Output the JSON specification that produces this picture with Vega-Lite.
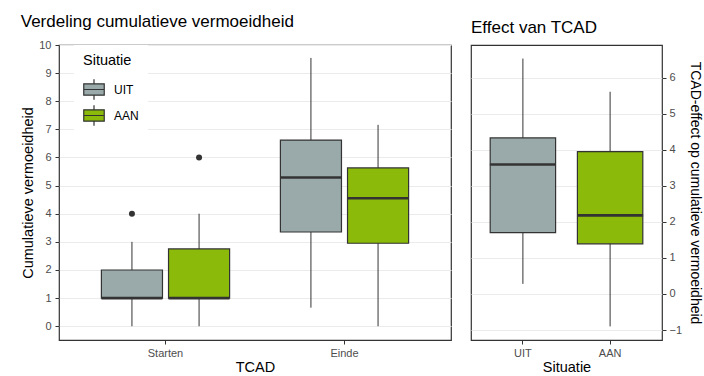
{
  "$schema": "https://vega.github.io/schema/vega-lite/v6.json",
  "padding": {"left": 20, "top": 12, "right": 0, "bottom": 0},
  "background": "white",
  "spacing": 18,
  "datasets": {
    "boxes": [
      {"TCAD": "Starten", "Situatie": "UIT", "lo": 0, "q1": 1, "med": 1, "q3": 2, "hi": 3},
      {"TCAD": "Starten", "Situatie": "AAN", "lo": 0, "q1": 1, "med": 1, "q3": 2.75, "hi": 4},
      {"TCAD": "Einde", "Situatie": "UIT", "lo": 0.66, "q1": 3.35, "med": 5.29, "q3": 6.62, "hi": 9.54},
      {"TCAD": "Einde", "Situatie": "AAN", "lo": 0, "q1": 2.95, "med": 4.55, "q3": 5.63, "hi": 7.16}
    ],
    "outliers": [
      {"TCAD": "Starten", "Situatie": "UIT", "value": 4},
      {"TCAD": "Starten", "Situatie": "AAN", "value": 6}
    ],
    "effect": [
      {"Situatie": "UIT", "lo": 0.28, "q1": 1.7, "med": 3.59, "q3": 4.33, "hi": 6.53},
      {"Situatie": "AAN", "lo": -0.9, "q1": 1.39, "med": 2.18, "q3": 3.95, "hi": 5.61}
    ]
  },
  "config": {
    "font": "Liberation Sans",
    "view": {"stroke": "#333333", "strokeWidth": 1.2},
    "axis": {
      "domain": false,
      "labelFontSize": 11,
      "labelColor": "#4D4D4D",
      "labelFont": "Liberation Sans",
      "tickColor": "#333333",
      "tickSize": 4,
      "labelPadding": 3,
      "titleFontSize": 14.5,
      "titleFontWeight": "normal",
      "titleColor": "#000000",
      "titleFont": "Liberation Sans",
      "labelOverlap": false
    },
    "axisX": {"grid": false},
    "axisY": {"grid": true, "gridColor": "#EBEBEB", "gridWidth": 1},
    "title": {"fontSize": 17, "fontWeight": "normal", "color": "#000000", "anchor": "start", "font": "Liberation Sans", "offset": 8}
  },
  "resolve": {"scale": {"fill": "shared"}, "legend": {"fill": "independent"}},
  "hconcat": [
    {
      "width": 392,
      "height": 295,
      "title": "Verdeling cumulatieve vermoeidheid",
      "encoding": {
        "x": {"field": "TCAD", "type": "nominal", "sort": ["Starten", "Einde"],
              "scale": {"paddingInner": 0.25, "paddingOuter": 0.22},
              "axis": {"labelAngle": 0, "title": "TCAD", "titlePadding": 2}},
        "xOffset": {"field": "Situatie", "type": "nominal", "sort": ["UIT", "AAN"],
                    "scale": {"paddingInner": 0.09, "paddingOuter": 0.045}}
      },
      "layer": [
        {
          "data": {"name": "boxes"},
          "mark": {"type": "rule", "color": "#333333", "strokeWidth": 1},
          "encoding": {
            "y": {"field": "lo", "type": "quantitative",
                  "scale": {"domain": [-0.49, 10], "nice": false, "zero": false},
                  "axis": {"title": "Cumulatieve vermoeidheid", "values": [0,1,2,3,4,5,6,7,8,9,10], "titlePadding": 3, "labelPadding": 4}},
            "y2": {"field": "hi"}
          }
        },
        {
          "data": {"name": "boxes"},
          "mark": {"type": "bar", "stroke": "#333333", "strokeWidth": 1.2},
          "encoding": {
            "y": {"field": "q1", "type": "quantitative",
                  "axis": {"title": "Cumulatieve vermoeidheid", "values": [0,1,2,3,4,5,6,7,8,9,10], "titlePadding": 3, "labelPadding": 4}},
            "y2": {"field": "q3"},
            "fill": {"field": "Situatie", "type": "nominal", "sort": ["UIT", "AAN"],
                     "scale": {"domain": ["UIT", "AAN"], "range": ["#9AAAAA", "#8BBA0A"]},
                     "legend": {
                       "orient": "none", "legendX": 15, "legendY": 0,
                       "title": "Situatie", "titleFontSize": 14.5, "titleFontWeight": "normal", "titleColor": "#000000",
                       "labelFontSize": 12, "labelColor": "#000000",
                       "fillColor": "white", "padding": 9,
                       "symbolType": "M-1,-0.55H1V0.55H-1Z M-1,0H1 M0,-0.55V-1 M0,0.55V1",
                       "symbolSize": 420, "symbolStrokeColor": "#333333", "symbolStrokeWidth": 1.2,
                       "symbolOpacity": 1,
                       "rowPadding": 0, "labelOffset": 9, "titlePadding": 10
                     }}
          }
        },
        {
          "data": {"name": "boxes"},
          "mark": {"type": "tick", "color": "#333333", "thickness": 2.6, "size": 61, "opacity": 1},
          "encoding": {"y": {"field": "med", "type": "quantitative",
                  "axis": {"title": "Cumulatieve vermoeidheid", "values": [0,1,2,3,4,5,6,7,8,9,10], "titlePadding": 3, "labelPadding": 4}}}
        },
        {
          "data": {"name": "outliers"},
          "mark": {"type": "point", "filled": true, "color": "#333333", "size": 36, "opacity": 1},
          "encoding": {"y": {"field": "value", "type": "quantitative",
                  "axis": {"title": "Cumulatieve vermoeidheid", "values": [0,1,2,3,4,5,6,7,8,9,10], "titlePadding": 3, "labelPadding": 4}}}
        }
      ]
    },
    {
      "width": 191,
      "height": 295,
      "title": "Effect van TCAD",
      "data": {"name": "effect"},
      "encoding": {
        "x": {"field": "Situatie", "type": "nominal", "sort": ["UIT", "AAN"],
              "scale": {"paddingInner": 0.25, "paddingOuter": 0.22},
              "axis": {"labelAngle": 0, "title": "Situatie", "titlePadding": 2}}
      },
      "layer": [
        {
          "mark": {"type": "rule", "color": "#333333", "strokeWidth": 1},
          "encoding": {
            "y": {"field": "lo", "type": "quantitative",
                  "scale": {"domain": [-1.277, 6.907], "nice": false, "zero": false},
                  "axis": {"orient": "right", "title": "TCAD-effect op cumulatieve vermoeidheid", "values": [-1,0,1,2,3,4,5,6], "titlePadding": 6, "titleFontSize": 14}},
            "y2": {"field": "hi"}
          }
        },
        {
          "mark": {"type": "bar", "stroke": "#333333", "strokeWidth": 1.2},
          "encoding": {
            "y": {"field": "q1", "type": "quantitative"},
            "y2": {"field": "q3"},
            "fill": {"field": "Situatie", "type": "nominal", "legend": null}
          }
        },
        {
          "mark": {"type": "tick", "color": "#333333", "thickness": 2.6, "size": 66, "opacity": 1},
          "encoding": {"y": {"field": "med", "type": "quantitative"}}
        }
      ]
    }
  ]
}
